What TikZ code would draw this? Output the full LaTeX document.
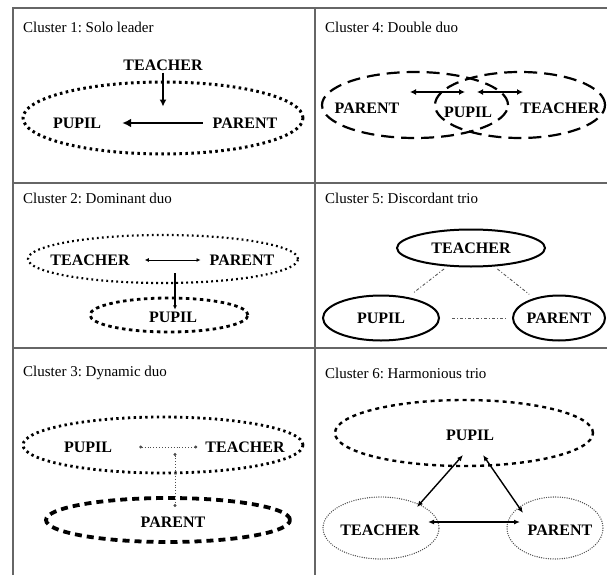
\documentclass[tikz,border=0pt]{standalone}
\usepackage{fontspec}
\setmainfont{Liberation Serif}
\usetikzlibrary{shapes.geometric,arrows.meta}
\frenchspacing

\begin{document}
\begin{tikzpicture}[x=1pt, y=-1pt,
    who/.style={font=\fontsize{16}{16}\selectfont\bfseries, inner sep=2pt},
    caption/.style={font=\fontsize{15}{16}\selectfont, anchor=west, inner sep=0pt},
    ring/.style={ellipse, draw, inner sep=0pt}]
    \useasboundingbox (0,0) rectangle (607,575);

    % table frame
    \draw[gray!80!black, line width=1.5pt] (13,575) -- (13,8) -- (607,8);
    \draw[gray!80!black, line width=1.5pt] (315,8) -- (315,575);
    \draw[gray!80!black, line width=1.5pt] (13,183) -- (607,183);
    \draw[gray!80!black, line width=1.5pt] (13,348) -- (607,348);

    % Cluster 1
    \node[caption] (cap1) at (23,27) {Cluster 1: Solo leader};
    \node[ring, line width=3pt, dash pattern=on 2.6pt off 3.4pt, minimum width=280pt, minimum height=72pt] (ring1) at (163,118) {};
    \node[who] (teacher1) at (163,65) {TEACHER};
    \node[who] (pupil1) at (77,123) {PUPIL};
    \node[who] (parent1) at (245,123) {PARENT};
    \draw[-{Latex[length=9pt,width=9pt]}, line width=2.4pt, shorten <=8pt, shorten >=19pt] (parent1.west) -- (pupil1.east);
    \draw[-{Latex[length=7pt,width=7pt]}, line width=1.6pt] (teacher1.south) -- ++(0,34);

    % Cluster 4
    \node[caption] (cap4) at (325,27) {Cluster 4: Double duo};
    \node[ring, line width=2.2pt, dash pattern=on 13pt off 7pt, minimum width=186pt, minimum height=66pt] (ring4a) at (415,105) {};
    \node[ring, line width=2.2pt, dash pattern=on 13pt off 7pt, minimum width=170pt, minimum height=66pt] (ring4b) at (520,105) {};
    \node[who] (parent4) at (367,108) {PARENT};
    \node[who] (pupil4) at (468,112) {PUPIL};
    \node[who] (teacher4) at (560,108) {TEACHER};
    \coordinate (a4) at (410,92);
    \coordinate (b4) at (465,92);
    \coordinate (c4) at (477,92);
    \coordinate (d4) at (523,92);
    \draw[{Latex[length=6pt,width=6pt]}-{Latex[length=6pt,width=6pt]}, line width=1.3pt] (a4) -- (b4);
    \draw[{Latex[length=6pt,width=6pt]}-{Latex[length=6pt,width=6pt]}, line width=1.3pt] (c4) -- (d4);

    % Cluster 2
    \node[caption] (cap2) at (23,198) {Cluster 2: Dominant duo};
    \node[ring, line width=2.2pt, dash pattern=on 1.8pt off 3.2pt, minimum width=270pt, minimum height=48pt] (ring2a) at (163,259) {};
    \node[ring, line width=2.8pt, dash pattern=on 3.5pt off 3.5pt, minimum width=158pt, minimum height=34pt] (ring2b) at (169,315) {};
    \node[who] (teacher2) at (90,260) {TEACHER};
    \node[who] (parent2) at (242,260) {PARENT};
    \node[who] (pupil2) at (173,317) {PUPIL};
    \draw[{Latex[length=4pt,width=4pt]}-{Latex[length=4pt,width=4pt]}, line width=0.8pt, shorten <=13pt, shorten >=7pt] (teacher2.east) -- (parent2.west);
    \coordinate (top2) at (175,273);
    \draw[-{Latex[length=4pt,width=4pt]}, line width=1.3pt] (top2) -- (pupil2.north -| top2);

    % Cluster 5
    \node[caption] (cap5) at (325,198) {Cluster 5: Discordant trio};
    \node[ring, line width=2pt, minimum width=148pt, minimum height=37pt] (teacher5) at (471,248) {};
    \node[ring, line width=2pt, minimum width=116pt, minimum height=45pt] (pupil5) at (381,318) {};
    \node[ring, line width=2pt, minimum width=92pt, minimum height=45pt] (parent5) at (559,318) {};
    \node[who] at (teacher5) {TEACHER};
    \node[who] at (pupil5) {PUPIL};
    \node[who] at (parent5) {PARENT};
    \draw[gray!70!black, line width=0.9pt, dash pattern=on 3pt off 2pt on 1pt off 2pt, shorten <=4pt, shorten >=6pt] (teacher5) -- (pupil5);
    \draw[gray!70!black, line width=0.9pt, dash pattern=on 3pt off 2pt on 1pt off 2pt, shorten <=4pt, shorten >=6pt] (teacher5) -- (parent5);
    \draw[gray!70!black, line width=0.9pt, dash pattern=on 3pt off 2pt on 1pt off 2pt, shorten <=12pt, shorten >=6pt] (pupil5) -- (parent5);

    % Cluster 3
    \node[caption] (cap3) at (23,373) {Cluster 3: Dynamic duo};
    \node[ring, line width=2.8pt, dash pattern=on 2.4pt off 3.4pt, minimum width=280pt, minimum height=56pt] (ring3a) at (163,445) {};
    \node[ring, line width=3.8pt, dash pattern=on 7pt off 5pt, minimum width=244pt, minimum height=44pt] (ring3b) at (168,520) {};
    \node[who] (pupil3) at (88,447) {PUPIL};
    \node[who] (teacher3) at (245,447) {TEACHER};
    \node[who] (parent3) at (173,522) {PARENT};
    \draw[gray!60!black, line width=0.9pt, dotted, {Circle[length=3pt]}-{Circle[length=3pt]}, shorten <=25pt, shorten >=6pt] (pupil3.east) -- (teacher3.west);
    \coordinate (top3) at (175,453);
    \coordinate (bot3) at (175,507);
    \draw[gray!60!black, line width=0.9pt, dotted, {Circle[length=3pt]}-{Circle[length=3pt]}] (top3) -- (bot3);

    % Cluster 6
    \node[caption] (cap6) at (325,373) {Cluster 6: Harmonious trio};
    \node[ring, line width=2.4pt, dash pattern=on 4pt off 4pt, minimum width=258pt, minimum height=66pt] (ring6) at (464,433) {};
    \node[ring, gray!60!black, line width=1.4pt, line cap=round, dash pattern=on 0pt off 2.3pt, minimum width=116pt, minimum height=62pt] (teacher6) at (381,528) {};
    \node[ring, gray!60!black, line width=1.4pt, line cap=round, dash pattern=on 0pt off 2.3pt, minimum width=96pt, minimum height=62pt] (parent6) at (555,528) {};
    \node[who] (pupil6) at (470,435) {PUPIL};
    \node[who] at (380,530) {TEACHER};
    \node[who] at (560,530) {PARENT};
    \coordinate (p6a) at (463,455);
    \coordinate (p6b) at (483,455);
    \coordinate (t6) at (417,507);
    \coordinate (r6) at (523,513);
    \coordinate (t6b) at (428,522);
    \coordinate (r6b) at (520,522);
    \draw[{Latex[length=6pt,width=5pt]}-{Latex[length=6pt,width=5pt]}, line width=1.4pt] (t6) -- (p6a);
    \draw[{Latex[length=6pt,width=5pt]}-{Latex[length=6pt,width=5pt]}, line width=1.4pt] (p6b) -- (r6);
    \draw[{Latex[length=6pt,width=5pt]}-{Latex[length=6pt,width=5pt]}, line width=1.8pt] (t6b) -- (r6b);
\end{tikzpicture}
\end{document}
